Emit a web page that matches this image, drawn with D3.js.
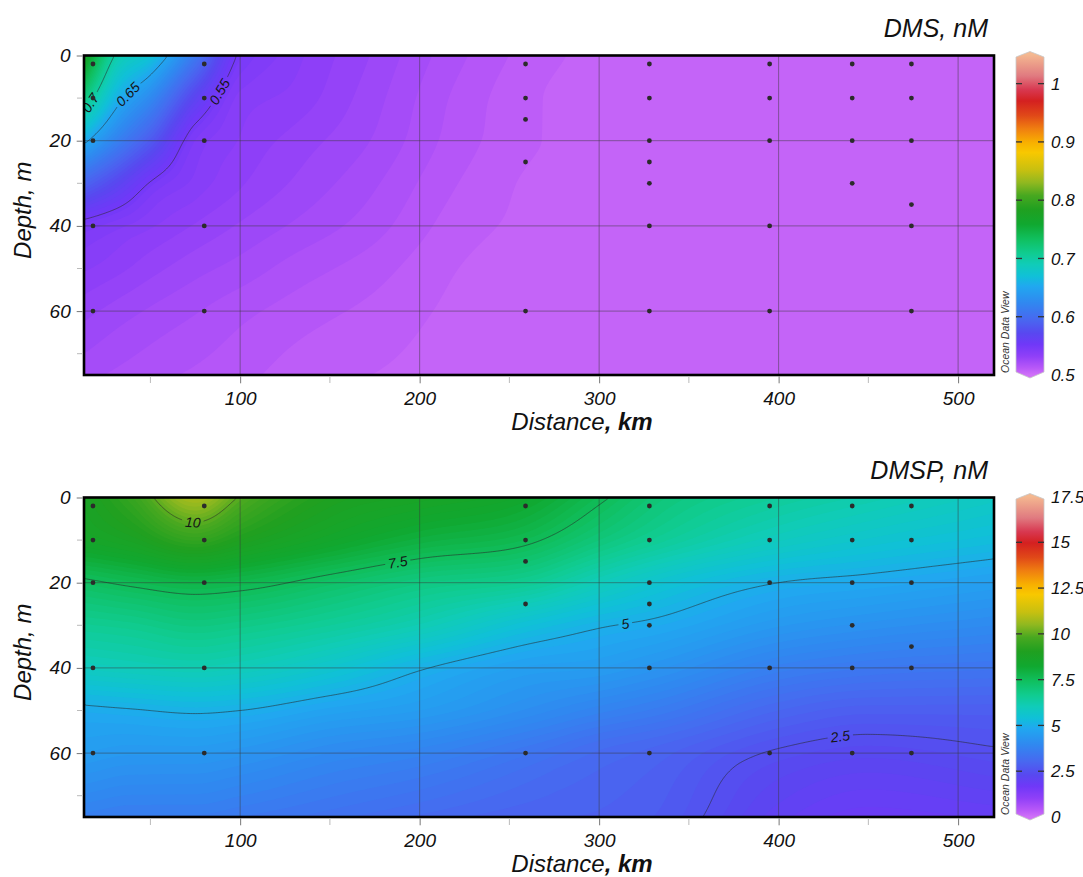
<!DOCTYPE html>
<html><head><meta charset="utf-8">
<script src="https://cdn.jsdelivr.net/npm/d3@7"></script>
<style>
body{margin:0;background:#fff}
svg{display:block}
text{font-family:"Liberation Sans",Arial,sans-serif;font-style:italic}
</style>
</head><body><svg id="chart" width="1083" height="877"></svg>
<script>
// ---------------- data ----------------
const stationDistance = [18, 80, 259, 328, 395, 441, 474];
const dmsSampleDepths = [[2,10,20,40,60],[2,10,20,40,60],[2,10,15,25,60],[2,10,20,25,30,40,60],[2,10,20,40,60],[2,10,20,30],[2,10,20,35,40,60]];
const dmspSampleDepths = [[2,10,20,40,60],[2,10,20,40,60],[2,10,15,25,60],[2,10,20,25,30,40,60],[2,10,20,40,60],[2,10,20,30,40,60],[2,10,20,35,40,60]];

const gridDepth = [0, 10, 20, 30, 40, 50, 60, 75];

const dmsGridDistance = [13, 30, 50, 75, 100, 130, 170, 220, 280, 350, 520];
const dmsGrid = [
  [0.775, 0.700, 0.672, 0.610, 0.548, 0.537, 0.528, 0.517, 0.508, 0.505, 0.504],
  [0.718, 0.662, 0.625, 0.568, 0.538, 0.534, 0.526, 0.515, 0.507, 0.505, 0.504],
  [0.655, 0.620, 0.585, 0.543, 0.535, 0.530, 0.524, 0.514, 0.507, 0.505, 0.504],
  [0.593, 0.572, 0.549, 0.538, 0.532, 0.527, 0.521, 0.512, 0.506, 0.5045, 0.504],
  [0.546, 0.541, 0.536, 0.531, 0.527, 0.523, 0.518, 0.510, 0.506, 0.5045, 0.504],
  [0.536, 0.533, 0.529, 0.525, 0.522, 0.518, 0.514, 0.508, 0.505, 0.5045, 0.504],
  [0.529, 0.526, 0.523, 0.520, 0.517, 0.514, 0.511, 0.507, 0.505, 0.5045, 0.504],
  [0.521, 0.519, 0.517, 0.515, 0.513, 0.510, 0.508, 0.506, 0.5045, 0.504, 0.504]
];

const dmspGridDistance = [13, 40, 75, 100, 150, 200, 260, 300, 330, 400, 450, 520];
const dmspGrid = [
  [8.8, 9.5, 10.8, 9.95, 9.0, 8.7, 8.3, 7.6, 7.1, 6.5, 6.2, 5.8],
  [8.5, 8.8, 9.4, 9.0, 8.4, 7.95, 7.6, 7.0, 6.6, 5.9, 5.6, 5.3],
  [7.4, 7.6, 7.8, 7.7, 7.3, 6.9, 6.6, 6.0, 5.6, 5.0, 4.85, 4.6],
  [6.6, 6.7, 6.9, 6.8, 6.5, 6.1, 5.4, 5.05, 4.9, 4.4, 4.2, 4.0],
  [5.9, 6.0, 6.1, 6.0, 5.6, 5.05, 4.6, 4.5, 4.3, 3.7, 3.5, 3.4],
  [4.9, 4.97, 5.06, 5.0, 4.7, 4.5, 4.1, 3.8, 3.6, 3.0, 2.8, 2.8],
  [4.5, 4.4, 4.4, 4.3, 4.0, 3.8, 3.4, 3.1, 2.95, 2.45, 2.3, 2.45],
  [3.7, 3.6, 3.6, 3.5, 3.3, 3.1, 2.9, 2.85, 2.75, 2.05, 1.8, 1.9]
];

const xTicks = [100, 200, 300, 400, 500];
const xMinorTicks = [50, 150, 250, 350, 450];
const yTicks = [0, 20, 40, 60];
const yMinorTicks = [10, 30, 50, 70];

const dmsColorTicks = [0.5, 0.6, 0.7, 0.8, 0.9, 1];
const dmspColorTicks = [0, 2.5, 5, 7.5, 10, 12.5, 15, 17.5];
const dmsContourLevels = [0.55, 0.65, 0.7];
const dmspContourLevels = [2.5, 5, 7.5, 10];

const paletteStops  = [0, 0.022, 0.058, 0.095, 0.131, 0.173, 0.225, 0.277, 0.308, 0.345, 0.38, 0.423, 0.47, 0.517, 0.56, 0.6, 0.64, 0.694, 0.725, 0.767, 0.81, 0.855, 0.89, 0.933, 1];
const paletteColors = ["#d070f8","#b858f8","#9040f8","#7038f8","#5848f0","#4868f0","#3088f0","#20a8f0","#10c0d8","#10ccb8","#10cc90","#10c060","#10a830","#20a020","#48a820","#90b820","#c8c010","#f8c800","#f8b000","#f08010","#e04818","#d42020","#d83850","#e07a80","#f4b890"];

// ---------------- helpers ----------------
const svg = d3.select("#chart");
const defs = svg.append("defs");
const palette = d3.scaleLinear().domain(paletteStops).range(paletteColors).interpolate(d3.interpolateRgb).clamp(true);

// monotone (Steffen) cubic interpolation
function monotone(xs, ys, x) {
  const n = xs.length;
  if (x <= xs[0]) return ys[0];
  if (x >= xs[n-1]) return ys[n-1];
  let k = 0;
  while (k < n - 2 && x > xs[k+1]) k++;
  const h = i => xs[i+1]-xs[i];
  const d = i => (ys[i+1]-ys[i])/h(i);
  const tan = i => {
    if (i === 0) return d(0);
    if (i === n-1) return d(n-2);
    const d0 = d(i-1), d1 = d(i), h0 = h(i-1), h1 = h(i);
    const p = (d0*h1 + d1*h0)/(h0+h1);
    return (Math.sign(d0) + Math.sign(d1)) * Math.min(Math.abs(d0), Math.abs(d1), 0.5*Math.abs(p));
  };
  const hk = h(k), t = (x-xs[k])/hk, t2=t*t, t3=t2*t;
  return (2*t3-3*t2+1)*ys[k] + (t3-2*t2+t)*hk*tan(k) + (-2*t3+3*t2)*ys[k+1] + (t3-t2)*hk*tan(k+1);
}

const panels = [
  {id:"dms", top:55.5, title:"DMS, nM", gridDist:dmsGridDistance, grid:dmsGrid, cmin:0.5, cmax:1.05,
   ticks:dmsColorTicks, levels:dmsContourLevels, samples:dmsSampleDepths,
   labels:[{level:0.7,d:16,z:11},{level:0.65,d:37,z:8.8},{level:0.55,d:89,z:8.6}]},
  {id:"dmsp", top:497.5, title:"DMSP, nM", gridDist:dmspGridDistance, grid:dmspGrid, cmin:0, cmax:17.5,
   ticks:dmspColorTicks, levels:dmspContourLevels, samples:dmspSampleDepths,
   labels:[{level:10,d:74,z:6},{level:7.5,d:187,z:14.6},{level:5,d:314,z:30},{level:2.5,d:435,z:57}]}
];

panels.forEach((p, idx) => {
  const x = d3.scaleLinear().domain([13, 520]).range([84, 994]);
  const y = d3.scaleLinear().domain([0, 75]).range([p.top, p.top + 319.5]);
  const [x0, x1] = x.range(), [y0, y1] = y.range();
  const nx = 364, ny = 128;
  const sx = (x1-x0)/nx, sy = (y1-y0)/ny;
  const vals = new Float64Array(nx*ny);
  for (let i = 0; i < nx; i++) {
    const km = x.invert(x0 + (i+0.5)*sx);
    const col = p.grid.map(row => monotone(p.gridDist, row, km));
    for (let j = 0; j < ny; j++) {
      const m = y.invert(y0 + (j+0.5)*sy);
      vals[j*nx+i] = monotone(gridDepth, col, m);
    }
  }
  const color = v => palette((v - p.cmin)/(p.cmax - p.cmin));
  const proj = d3.geoTransform({point(px, py){ this.stream.point(x0 + px*sx, y0 + py*sy); }});
  const path = d3.geoPath(proj);

  defs.append("clipPath").attr("id", "clip"+idx)
    .append("rect").attr("x", x0).attr("y", y0).attr("width", x1-x0).attr("height", y1-y0);

  // field bands
  const field = svg.append("g").attr("clip-path", `url(#clip${idx})`);
  const vmin = d3.min(vals);
  field.append("rect").attr("x", x0).attr("y", y0).attr("width", x1-x0).attr("height", y1-y0).attr("fill", color(vmin));
  const step = (p.cmax - p.cmin)/140;
  const ths = d3.range(p.cmin + step, p.cmax, step);
  const bands = d3.contours().size([nx, ny]).thresholds(ths)(vals).filter(c => c.coordinates.length);
  field.selectAll("path.band").data(bands).join("path").attr("class","band")
    .attr("d", path).attr("fill", d => color(d.value + step/2));

  // grid lines
  const grid = svg.append("g").attr("stroke", "#3a3a3a").attr("stroke-opacity", 0.55).attr("stroke-width", 0.9);
  grid.selectAll("line.v").data(xTicks).join("line").attr("class","v")
    .attr("x1", d => x(d)).attr("x2", d => x(d)).attr("y1", y0).attr("y2", y1);
  grid.selectAll("line.h").data([20, 40, 60]).join("line").attr("class","h")
    .attr("y1", d => y(d)).attr("y2", d => y(d)).attr("x1", x0).attr("x2", x1);

  // contour lines
  const onB = pt => pt[0] <= 1e-6 || pt[0] >= nx-1e-6 || pt[1] <= 1e-6 || pt[1] >= ny-1e-6;
  const lineSets = d3.contours().size([nx, ny]).thresholds(p.levels)(vals).map(c => {
    const lines = [];
    c.coordinates.forEach(poly => poly.forEach(ring => {
      let cur = [];
      for (let k = 0; k < ring.length-1; k++) {
        const a = ring[k], b = ring[k+1];
        if (onB(a) && onB(b)) { if (cur.length > 1) lines.push(cur); cur = []; }
        else { if (!cur.length) cur.push(a); cur.push(b); }
      }
      if (cur.length > 1) lines.push(cur);
    }));
    return {value: c.value, lines: lines.map(l => l.map(pt => [x0 + pt[0]*sx, y0 + pt[1]*sy]))};
  });

  const maskId = "mask"+idx;
  const mask = defs.append("mask").attr("id", maskId).attr("maskUnits","userSpaceOnUse")
    .attr("x",0).attr("y",0).attr("width",1083).attr("height",877);
  mask.append("rect").attr("x",0).attr("y",0).attr("width",1083).attr("height",877).attr("fill","#fff");

  const cl = svg.append("g").attr("clip-path", `url(#clip${idx})`);
  const lineG = cl.append("g").attr("mask", `url(#${maskId})`);
  lineSets.forEach(s => {
    lineG.selectAll(null).data(s.lines).join("path")
      .attr("d", d3.line().curve(d3.curveBasis)).attr("fill","none").attr("stroke","#2a2a2a").attr("stroke-opacity",0.7).attr("stroke-width",0.8);
  });

  // contour labels
  p.labels.forEach(lb => {
    const s = lineSets.find(q => Math.abs(q.value - lb.level) < 1e-9);
    if (!s) return;
    const tx = x(lb.d), ty = y(lb.z);
    let best = null, bd = Infinity;
    s.lines.forEach(l => l.forEach((pt, k) => {
      const dd = (pt[0]-tx)**2 + (pt[1]-ty)**2;
      if (dd < bd) { bd = dd; best = {l, k}; }
    }));
    if (!best) return;
    const l = best.l, k = best.k;
    const walk = (dir) => { let acc = 0, j = k; while (j+dir >= 0 && j+dir < l.length && acc < 9) { acc += Math.hypot(l[j+dir][0]-l[j][0], l[j+dir][1]-l[j][1]); j += dir; } return l[j]; };
    const a = walk(-1), b = walk(1);
    let ang = Math.atan2(b[1]-a[1], b[0]-a[0]) * 180/Math.PI;
    if (ang > 90) ang -= 180; if (ang < -90) ang += 180;
    const [cx, cy] = l[k];
    const t = cl.append("text").attr("transform", `translate(${cx},${cy}) rotate(${ang})`)
      .attr("text-anchor","middle").attr("dy","0.36em").attr("font-size",14).attr("fill","#151515")
      .text(String(lb.level));
    const w = t.node().getComputedTextLength() + 6;
    mask.append("rect").attr("transform", `translate(${cx},${cy}) rotate(${ang})`)
      .attr("x", -w/2).attr("y", -7).attr("width", w).attr("height", 14).attr("fill", "#000");
  });

  // sample dots
  const pts = [];
  stationDistance.forEach((d, i) => p.samples[i].forEach(z => pts.push([d, z])));
  svg.append("g").selectAll("circle").data(pts).join("circle")
    .attr("cx", d => x(d[0])).attr("cy", d => y(d[1])).attr("r", 2.4).attr("fill", "#2b2b2b");

  // frame
  svg.append("rect").attr("x", x0).attr("y", y0).attr("width", x1-x0).attr("height", y1-y0)
    .attr("fill","none").attr("stroke","#000").attr("stroke-width",2.6);

  // axes
  const ax = svg.append("g").attr("transform", `translate(0,${y1+1.3})`)
    .call(d3.axisBottom(x).tickValues(xTicks).tickSize(7).tickPadding(8).tickFormat(d3.format("d")));
  ax.select(".domain").remove();
  ax.selectAll(".tick line").attr("stroke","#777");
  ax.selectAll("text").attr("font-size",19).attr("fill","#111");
  ax.attr("font-family", null).attr("font-size", null);
  svg.append("g").selectAll("line").data(xMinorTicks).join("line")
    .attr("x1", d => x(d)).attr("x2", d => x(d)).attr("y1", y1+1.3).attr("y2", y1+8).attr("stroke","#bbb");

  const ay = svg.append("g").attr("transform", `translate(${x0-1.3},0)`)
    .call(d3.axisLeft(y).tickValues(yTicks).tickSize(6).tickPadding(6).tickFormat(d3.format("d")));
  ay.select(".domain").remove();
  ay.selectAll(".tick line").attr("stroke","#777");
  ay.selectAll("text").attr("font-size",19).attr("fill","#111");
  ay.attr("font-family", null).attr("font-size", null);
  svg.append("g").selectAll("line").data(yMinorTicks).join("line")
    .attr("y1", d => y(d)).attr("y2", d => y(d)).attr("x1", x0-1.3).attr("x2", x0-7).attr("stroke","#bbb");

  // axis titles
  const xt = svg.append("text").attr("x", 582).attr("y", y1 + 55).attr("text-anchor","middle")
    .attr("font-size",24).attr("fill","#111");
  xt.append("tspan").text("Distance");
  xt.append("tspan").attr("font-weight","bold").text(", km");
  svg.append("text").attr("transform", `translate(31,${(y0+y1)/2 - 5}) rotate(-90)`)
    .attr("text-anchor","middle").attr("font-size",24).attr("fill","#111").text("Depth, m");

  // title
  svg.append("text").attr("x", 988).attr("y", y0 - 19).attr("text-anchor","end")
    .attr("font-size",25).attr("fill","#111").text(p.title);

  // colour bar
  const cb = d3.scaleLinear().domain([p.cmin, p.cmax]).range([y1, y0 - 1]);
  const gid = "grad"+idx;
  const grad = defs.append("linearGradient").attr("id", gid).attr("gradientUnits","userSpaceOnUse")
    .attr("x1",0).attr("x2",0).attr("y1", cb(p.cmin)).attr("y2", cb(p.cmax));
  paletteStops.forEach((s, i) => grad.append("stop").attr("offset", s).attr("stop-color", paletteColors[i]));
  const bl = 1016, br = 1044, bm = 1030;
  const barPath = `M${bl},${y0+1.5} L${bm},${y0-4} L${br},${y0+1.5} L${br},${y1-3} L${bm},${y1+3} L${bl},${y1-3} Z`;
  svg.append("path").attr("d", barPath).attr("fill", `url(#${gid})`).attr("stroke","#c8c8c8").attr("stroke-width",0.8);
  const inner = p.ticks.filter(v => v > p.cmin && v < p.cmax);
  svg.append("g").selectAll("line").data(inner).join("line")
    .attr("x1", bl).attr("x2", bl+6).attr("y1", d => cb(d)).attr("y2", d => cb(d)).attr("stroke","#333").attr("stroke-width",1.3);
  svg.append("g").selectAll("line").data(inner).join("line")
    .attr("x1", br-6).attr("x2", br).attr("y1", d => cb(d)).attr("y2", d => cb(d)).attr("stroke","#333").attr("stroke-width",1.3);
  svg.append("g").selectAll("text").data(p.ticks).join("text")
    .attr("x", 1051).attr("y", d => cb(d)).attr("dy","0.36em").attr("font-size",17).attr("fill","#111")
    .text(d => String(d));
  svg.append("text").attr("transform", `translate(1009,${y1-2}) rotate(-90)`)
    .attr("font-size",10.5).attr("fill","#333").text("Ocean Data View");
});
</script>
</body></html>
